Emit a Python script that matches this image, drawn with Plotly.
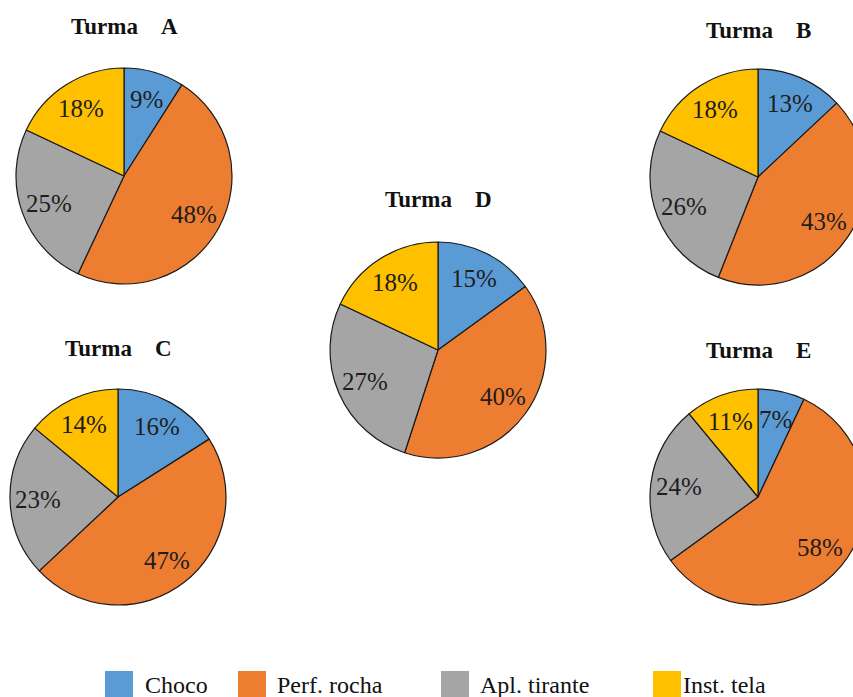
import math
import plotly.graph_objects as go

categories = ["Choco", "Perf. rocha", "Apl. tirante", "Inst. tela"]
colors = ["#5B9BD5", "#ED7D31", "#A5A5A5", "#FFC000"]
turmas = ["A", "B", "C", "D", "E"]
turma_a = [9, 48, 25, 18]
turma_b = [13, 43, 26, 18]
turma_c = [16, 47, 23, 14]
turma_d = [15, 40, 27, 18]
turma_e = [7, 58, 24, 11]
series = [turma_a, turma_b, turma_c, turma_d, turma_e]

W, H = 870, 697
R = 108
# pie centers (px) and title y (px)
centers = {"A": (124, 176), "B": (758, 177), "C": (118, 497), "D": (438, 350), "E": (758, 497)}
title_y = {"A": 27, "B": 30, "C": 348, "D": 200, "E": 350}

fig = go.Figure()
annotations = []
for t, vals in zip(turmas, series):
    cx, cy = centers[t]
    fig.add_trace(go.Pie(
        labels=categories, values=vals, sort=False, direction="clockwise", rotation=0,
        marker=dict(colors=colors, line=dict(color="#1a1a1a", width=1.2)),
        textinfo="none", hoverinfo="label+percent", showlegend=False,
        domain=dict(x=[(cx - R) / W, (cx + R) / W], y=[1 - (cy + R) / H, 1 - (cy - R) / H]),
    ))
    total = sum(vals)
    acc = 0
    for v in vals:
        mid = (acc + v / 2) / total * 2 * math.pi
        acc += v
        d = 0.74 * R
        x = cx + d * math.sin(mid)
        y = cy - d * math.cos(mid)
        annotations.append(dict(x=x / W, y=1 - y / H, xref="paper", yref="paper",
                                xanchor="center", yanchor="middle",
                                text=f"{v}%", showarrow=False,
                                font=dict(family="Liberation Serif", size=25, color="#1e1e1e")))
    annotations.append(dict(x=cx / W, y=1 - title_y[t] / H, xref="paper", yref="paper",
                            xanchor="center", yanchor="middle",
                            text="<b>Turma\u00a0\u00a0\u00a0\u00a0" + t + "</b>", showarrow=False,
                            font=dict(family="Liberation Serif", size=23, color="#111111")))

# legend drawn with shapes + text
leg_box_x = [105, 238, 441, 653]
leg_text_x = [143, 275, 478, 681]
shapes = []
for i, c in enumerate(categories):
    shapes.append(dict(type="rect", xref="paper", yref="paper",
                       x0=leg_box_x[i] / W, x1=(leg_box_x[i] + 28) / W,
                       y0=1 - 700 / H, y1=1 - 671 / H,
                       fillcolor=colors[i], line=dict(width=0)))
    annotations.append(dict(x=leg_text_x[i] / W, y=1 - 685 / H, xref="paper", yref="paper",
                            xanchor="left", yanchor="middle", text=c, showarrow=False,
                            font=dict(family="Liberation Serif", size=24, color="#111111")))

fig.update_layout(width=W, height=H, margin=dict(l=0, r=0, t=0, b=0),
                  paper_bgcolor="white", plot_bgcolor="white",
                  annotations=annotations, shapes=shapes)

fig.write_html("out.html", post_script="document.body.style.overflow='hidden';document.documentElement.style.overflow='hidden';")
